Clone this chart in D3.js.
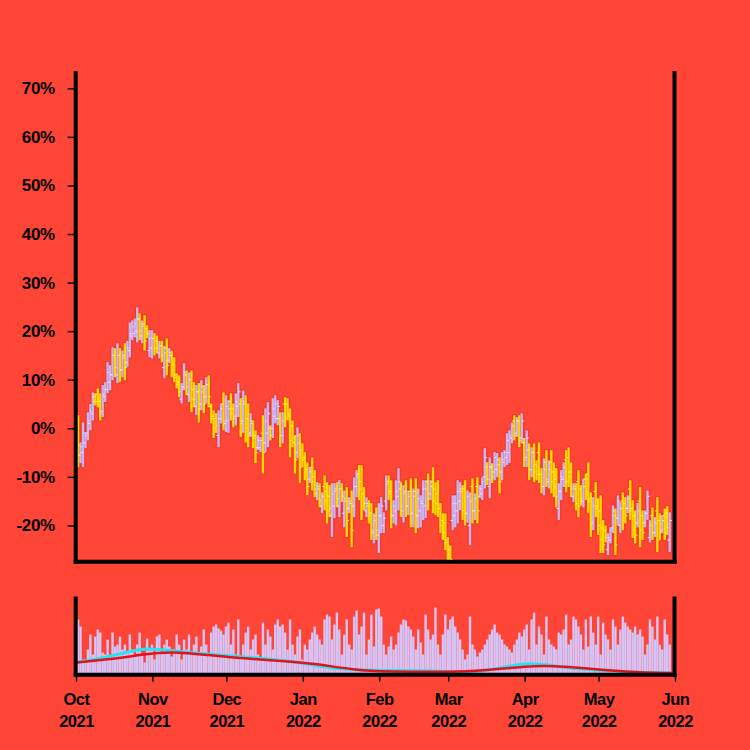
<!DOCTYPE html>
<html><head><meta charset="utf-8">
<script src="https://cdn.jsdelivr.net/npm/d3@7"></script>
<style>
html,body{margin:0;padding:0;background:#ff4535;}
svg{display:block;}
text{font-family:"Liberation Sans",Arial,Helvetica,sans-serif;font-weight:bold;}
</style></head><body>
<svg id="c" width="750" height="750"></svg>
<script>
const startDate = "2021-10-01";
const highs = [2.7,-2.9,1.2,-0.8,3.3,5,7.4,7.2,8.2,7.2, 8.9,9.5,13.6,13,16.7,16.5,17.5,16.5,16,17.5,
 18,21.8,22.2,22.6,24.9,23.7,22.2,23.3,21.2,20.2, 20.2,19.6,19.1,18,18,17,18.5,16.5,16,14.6,
 11.3,10.9,9.3,13.4,11.9,11.5,11.9,9.5,8.9,9.3, 9.9,8.9,10.5,10.9,5.1,3.7,3.1,3.7,5.1,7.4,
 6.8,5.8,7.2,5.1,7.2,9.3,6.2,7.8,6.8,5.1, 3.1,1.6,-0.4,-1.4,-1.8,2.7,4.1,5.4,0.6,6.2,
 6.8,5.8,3.3,3.3,6.4,6.2,4.1,1.6,-1.4,0.2, -1,-3.1,-4.9,-7,-8,-6,-8.6,-11.1,-11.3,-13.2,
 -9.7,-11.1,-11.7,-11.3,-11.3,-11.1,-10.7,-11.3,-12.8,-12.1, -14.2,-12.8,-10.1,-8.6,-7.6,-7.6,-12.1,-14.2,-14.8,-15.4,
 -17.5,-16.3,-15.4,-14.2,-17.3,-9.7,-9.7,-10.7,-14.8,-10.7, -8.2,-11.1,-11.7,-10.7,-12.8,-10.3,-12.4,-10.3,-12.4,-13.8,
 -10.7,-10.7,-9.3,-10.7,-8,-11.1,-10.7,-15.4,-17.5,-17.5, -22.4,-24.1,-13.8,-13.8,-10.7,-11.1,-11.7,-10.7,-12.8,-13.2,
 -10.3,-13.4,-10.1,-11.7,-10.1,-4.1,-7,-6,-7.2,-4.9, -5.1,-6,-4.9,-4.5,-1,-0.4,1.2,2.7,2.3,2.7,
 3.1,-2,-0.4,-3.1,-3.9,-3.1,-6.6,-2.9,-8.2,-6.2, -4.5,-6.6,-4.5,-7,-8.2,-11.3,-8.6,-7,-4.5,-3.9,
 -7,-11.3,-11.3,-8.6,-11.7,-10.3,-9.3,-7,-13.2,-14.2, -11.1,-14.4,-13.8,-18.9,-20,-21.6,-20.4,-15.9,-16.5,-13.8,
 -15.2,-13.2,-14.2,-13.8,-10.7,-14.8,-16.9,-15.4,-12.1,-16.9, -16.9,-12.8,-18.9,-16.3,-18.3,-14.2,-17.5,-17.9,-16.5,-16,
 -17.3];
const lows = [-8,-7.2,-8,-4.1,-2.5,-0.4,1.6,4.7,4.3,1.6, 2.3,5.4,7.2,7.8,9.9,10.5,9.3,9.5,10.5,9.9,
 12.6,14.6,18.1,18.7,17.7,18.1,17.5,16,18.5,14.6, 14.4,15,15.4,14.4,13.6,10.3,10.9,13.4,10.5,9.5,
 8.2,6.4,5.1,7.8,6.8,5.4,3.3,4.3,2.7,1.2, 3.7,3.1,5.1,4.3,1,-2,-1,-3.9,1,-0.4,
 -0.8,-1,1.6,0.2,0.6,2.3,-1.8,-1,-2.9,-3.9, -1.8,-4.1,-7.2,-4.5,-4.9,-9.3,-4.9,-3.9,-2.5,-2,
 1,0.6,-3.9,-3.1,0.2,1.6,-6,-3.9,-9.3,-6.2, -11.3,-8,-10.7,-13.8,-11.3,-12.8,-14.2,-14.8,-16.3,-17.5,
 -16.9,-19.6,-18.3,-22.4,-18.5,-16.3,-18.3,-15.2,-20.4,-22.4, -17.5,-24.5,-18.3,-14.2,-14.8,-18.9,-16.9,-18.3,-19.6,-23,
 -23.7,-23,-25.7,-21.6,-21.6,-16.9,-14.8,-20.6,-19.6,-20, -16.9,-18.3,-19.4,-18.3,-17.9,-20.4,-20.4,-21.6,-20.6,-20.4,
 -18.9,-18.5,-16.9,-14.8,-17.5,-17.9,-18.3,-21.6,-23,-25.1, -27.2,-27.5,-21,-20.4,-19.6,-16.9,-18.9,-20,-19.4,-24.1,
 -19.6,-18.9,-19.6,-14.4,-14.8,-12.4,-11.7,-14.4,-11.3,-10.7, -10.1,-13.4,-10.7,-8,-7.6,-7.2,-3.1,-2.5,-1.8,-3.9,
 -3.1,-8,-8,-10.7,-10.1,-11.1,-10.7,-11.3,-13.4,-13.8, -12.1,-12.4,-13.4,-14.2,-16.3,-18.9,-14.8,-12.1,-13.2,-12.1,
 -14.2,-15.2,-16.9,-18.3,-15.9,-16.3,-14.8,-17.5,-22.4,-21, -18.3,-22,-25.7,-25.7,-23.5,-26.1,-23.7,-21.6,-26.1,-20,
 -21.6,-21,-19.6,-17.5,-18.9,-22.6,-23.7,-20.4,-24.5,-23, -20.4,-18.9,-23.5,-23,-22.4,-25.5,-23,-21.6,-23,-22,
 -25.5];
const opens = [0.5,-5.5,-5,-3,-1,1,3,6.5,7,5.5, 3.5,6.5,8,9.5,11,15,11,15,12,15,
 13.5,16,19,19.5,20,22.5,19,21.5,20.5,16, 16.5,18.5,18,15.5,17,12.5,16.5,14,15,13,
 10.5,9.5,6,8.5,11,7,10,8,4.5,7.5, 5,7.5,6.5,9,4.5,2.5,2,-1.5,2,5,
 1,1.5,5.5,4,2.5,4.5,5,1.5,5,2, -1,1,-1.5,-4,-4,-1,-3,-1,0,0,
 2.5,2,2,-1.5,5,5,2.5,0.5,-3,-5, -3,-4.5,-6,-8.5,-10.5,-8,-10,-13.5,-12.5,-16,
 -12,-13,-14,-18,-16,-12.5,-16,-12.5,-17.5,-15, -16.5,-15.5,-16,-12,-9.5,-11,-13.5,-17,-16,-17.5,
 -21.5,-18,-22,-18,-20,-15,-11,-13,-18,-17, -14,-12.5,-17,-13,-16,-13,-17.5,-13,-18,-17,
 -15.5,-16,-11,-13.5,-11,-12.5,-13.5,-16.5,-19,-19.5, -23.5,-25,-19,-18,-17,-15,-13,-12.5,-17.5,-20,
 -12,-17,-12,-14,-13.5,-10,-8,-12,-8,-9, -8.5,-7.5,-9,-7,-6,-5,-2,1.5,-1,1.5,
 -2,-3,-6,-4.5,-8.5,-5,-7.5,-5,-9.5,-12, -7,-11,-7,-9,-10.5,-16.5,-13,-10.5,-6.5,-6,
 -9,-14,-12.5,-11,-12.5,-15,-10.5,-9.5,-15,-19.5, -13,-16,-17,-20.5,-21,-25,-23,-20.5,-18,-18.5,
 -20,-15,-15.5,-16.5,-12.5,-16.5,-18,-19.5,-15,-18, -19.5,-17.5,-22.5,-18,-21.5,-17,-19,-21,-18,-17.5,
 -23];
const closes = [-3.5,-3.8,-1,-1.5,1.5,3.5,5.5,5.5,5.5,3, 7,8,11.5,11,15,12.5,15,12,14.5,12.5,
 16.5,19.5,21,21.5,22.5,20,21,18,19.5,18.5, 18.5,16.5,16.5,17,15,15.5,13,15.5,12,11,
 9,7.5,8,11.5,8.5,10,6,6,7.5,4, 8.5,5,9,6.5,2,0,0.5,2,4,1.5,
 4.5,4,3,2,5.5,7.5,1,5.5,0,-1.5, 1.5,-2,-5,-2.5,-2.5,-5,1.5,3,-1.5,4,
 5,4.5,-1.5,1.5,2,3,-2.5,-2,-6.5,-1.5, -8,-6.5,-9,-12,-9,-11,-12.5,-12,-15,-14,
 -15,-17,-16.5,-13.5,-13,-14.5,-12.5,-14,-14.5,-19, -15,-21,-12,-10,-12.5,-16,-15.5,-15.5,-18,-21,
 -19,-21,-18,-16,-18.5,-11.5,-13.5,-18,-16,-13, -11,-16,-13.5,-16,-14,-17.5,-14,-18,-14.5,-15,
 -12.5,-12.5,-14.5,-12,-15,-15.5,-16.5,-20,-21.5,-23, -26,-27,-15.5,-15.5,-13,-12.5,-17,-17.5,-14,-15,
 -17,-14.5,-17,-12.5,-11,-6,-10.5,-8,-10,-6, -6.5,-11,-6.5,-5,-2.5,-1.5,0.5,-1.5,1.5,-2.5,
 1.5,-6.5,-2,-8.5,-5,-9,-9.5,-9.5,-12,-8.5, -10.5,-8.5,-11,-12,-14,-13,-10,-8,-11,-10,
 -12.5,-12,-15.5,-16,-14.5,-12,-13,-14.5,-20,-16, -16.5,-20,-23,-24,-22.5,-22.5,-21,-17,-24,-15,
 -16.5,-19,-18,-14.5,-17,-21,-22,-17,-21,-21.5, -17.5,-14,-20,-21.5,-19.5,-23,-21.5,-19,-21.5,-20.5,
 -19];
const volumes = [55,48,15,12,25,40,20,38,45,42, 22,20,35,18,42,28,30,38,25,30, 22,
 40,25,18,30,42,20,12,36,25,30, 15,38,40,22,30,35,28,18,25,40,
 30,15,35,25,40,20,30,38,22,28, 45,30,20,42,48,50,46,44,40,48,
 52,30,45,20,55,18,30,42,48,25, 35,40,20,15,52,30,45,38,25,50,
 55,48,50,42,25,55,30,20,38,45, 15,30,25,35,42,48,40,35,30,55,
 60,58,35,50,62,45,20,40,55,30, 25,58,64,40,48,62,20,35,60,28,
 65,66,58,30,20,28,38,25,30,42, 50,55,54,48,45,38,25,45,32,20,
 60,45,35,40,67,30,20,40,60,45, 55,58,48,42,35,25,15,20,58,30,
 25,18,22,25,30,35,40,45,50,42, 40,35,30,28,25,22,30,35,42,38,
 45,50,25,55,62,30,48,40,20,58, 35,30,28,25,42,40,45,60,30,35,
 58,55,48,40,25,55,28,58,42,30, 58,20,52,40,35,25,55,48,30,45,
 58,52,48,45,42,48,40,45,38,20, 30,55,48,35,58,30,25,55,40,30];
const cyanDates = ["2021-10-01","2021-10-11","2021-10-21","2021-10-30","2021-11-10","2021-12-01","2021-12-27","2022-01-10","2022-01-24","2022-02-20","2022-03-05","2022-03-15","2022-03-25","2022-04-03","2022-04-12","2022-04-25","2022-05-16","2022-05-31"];
const cyanValues = [12,16,22,27,23,19,14,7,4,4,2,3,8,12,9,5,2,1.5];
const redDates = ["2021-10-01","2021-10-21","2021-10-25","2021-11-08","2021-12-01","2021-12-28","2022-01-05","2022-01-24","2022-02-01","2022-03-11","2022-04-03","2022-04-14","2022-05-14","2022-05-31"];
const redValues = [12,17,19,24,17,13,11,4,3,2,9,9,2,1.5];
const yTicks = [-20,-10,0,10,20,30,40,50,60,70];
const monthTicks = ["2021-10-01","2021-11-01","2021-12-01","2022-01-01","2022-02-01","2022-03-01","2022-04-01","2022-05-01","2022-06-01"];

const parse = d3.timeParse("%Y-%m-%d");
const start = parse(startDate);
const dates = closes.map((_, i) => d3.timeDay.offset(start, i));
const svg = d3.select("#c");

const x = d3.scaleTime().domain([parse("2021-10-01"), parse("2022-06-01")]).range([76, 675]);
const y = d3.scaleLinear().domain([-27.47, 73.15]).range([561.7, 73]);
const yv = d3.scaleLinear().domain([0, 76]).range([674.5, 598.5]);
const barX = d => x(d3.timeHour.offset(d, 20));

// main panel bars
const gBars = svg.append("g");
dates.forEach((d, i) => {
  const cx = barX(d);
  gBars.append("line").attr("x1", cx).attr("x2", cx)
    .attr("y1", y(highs[i]) - 1).attr("y2", y(lows[i]) + 1)
    .attr("stroke", "rgba(140,0,0,0.12)").attr("stroke-width", 5);
});
dates.forEach((d, i) => {
  const up = closes[i] >= opens[i];
  const cx = barX(d);
  const col = up ? "#cdb2ee" : "#ffd500";
  const tick = up ? "#f1e6ff" : "#fff27a";
  gBars.append("line").attr("x1", cx).attr("x2", cx)
    .attr("y1", y(highs[i])).attr("y2", Math.min(y(lows[i]), 561))
    .attr("stroke", col).attr("stroke-width", 2.4);
  gBars.append("line").attr("x1", cx - 2.2).attr("x2", cx)
    .attr("y1", y(opens[i])).attr("y2", y(opens[i]))
    .attr("stroke", tick).attr("stroke-width", 1);
  gBars.append("line").attr("x1", cx).attr("x2", cx + 2.2)
    .attr("y1", y(closes[i])).attr("y2", y(closes[i]))
    .attr("stroke", tick).attr("stroke-width", 1);
});

// volume bars
svg.append("g").selectAll("rect").data(volumes).join("rect")
  .attr("x", (v, i) => barX(dates[i]) - 1.2)
  .attr("width", 2.4)
  .attr("y", v => yv(v))
  .attr("height", v => yv(0) - yv(v))
  .attr("fill", "#d6c4f6");

const vline = d3.line().curve(d3.curveBasis).x(p => x(p[0])).y(p => yv(p[1]));
svg.append("path").datum(cyanDates.map((d, i) => [parse(d), cyanValues[i]]))
  .attr("d", vline).attr("fill", "none").attr("stroke", "#1ee6f2").attr("stroke-width", 3);
svg.append("path").datum(redDates.map((d, i) => [parse(d), redValues[i]]))
  .attr("d", vline).attr("fill", "none").attr("stroke", "#e3121a").attr("stroke-width", 2.5);

// y axis
const ya = svg.append("g").attr("transform", "translate(75.7,0)")
  .call(d3.axisLeft(y).tickValues(yTicks).tickFormat(d => d + "%").tickSize(8).tickPadding(13));
ya.select(".domain").remove();
ya.selectAll(".tick line").attr("stroke", "#000").attr("stroke-width", 1.5);
ya.selectAll(".tick text").attr("fill", "#000").style("font-size", "17px").style("letter-spacing", "-0.4px");

// x axis (volume panel bottom)
const xa = svg.append("g").attr("transform", "translate(0,674.7)")
  .call(d3.axisBottom(x).tickValues(monthTicks.map(parse)).tickSize(7).tickFormat(""));
xa.select(".domain").remove();
xa.selectAll(".tick line").attr("stroke", "#000").attr("stroke-width", 1.5);
const fmtM = d3.timeFormat("%b"), fmtY = d3.timeFormat("%Y");
xa.selectAll(".tick").each(function(d) {
  const t = d3.select(this).append("text").attr("fill", "#000").attr("text-anchor", "middle")
    .style("font-size", "16.5px").style("letter-spacing", "-0.5px");
  t.append("tspan").attr("x", 0).attr("y", 30).text(fmtM(d));
  t.append("tspan").attr("x", 0).attr("y", 52).text(fmtY(d));
});

// frames
const frame = (x1, y1, x2, y2) => svg.append("line").attr("x1", x1).attr("y1", y1).attr("x2", x2).attr("y2", y2)
  .attr("stroke", "#000").attr("stroke-width", 4).attr("stroke-linecap", "square");
frame(75.7, 73, 75.7, 561.7);
frame(674.5, 73, 674.5, 561.7);
frame(75.7, 561.7, 674.5, 561.7);
frame(75.7, 598.5, 75.7, 674.7);
frame(674.5, 598.5, 674.5, 674.7);
frame(75.7, 674.7, 674.5, 674.7);
</script>
</body></html>
